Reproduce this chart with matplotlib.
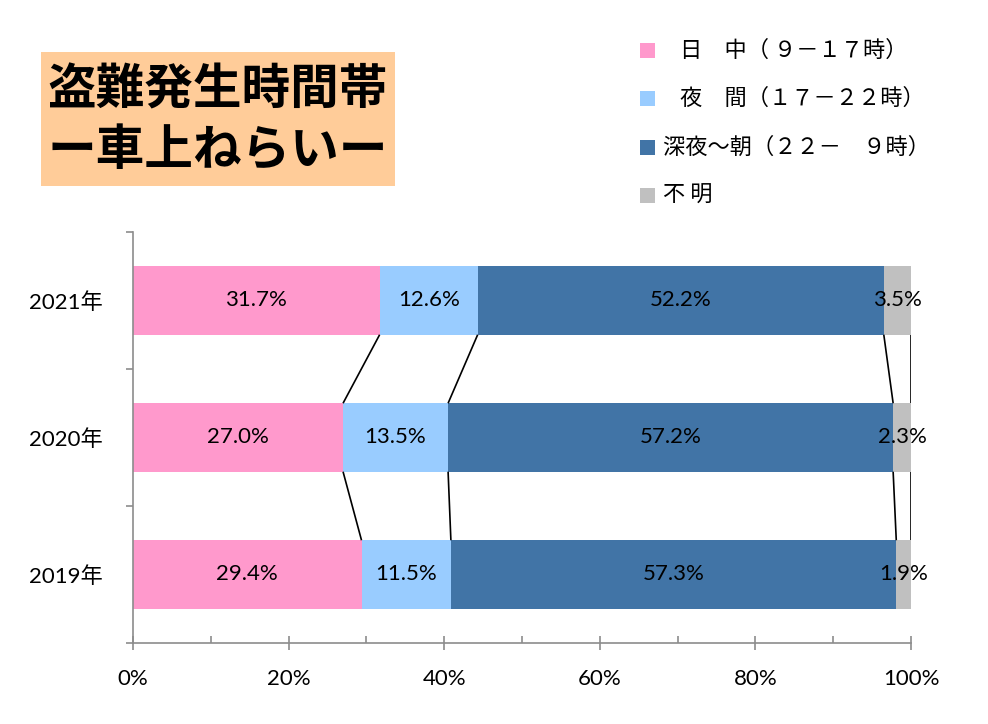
import matplotlib
matplotlib.use("Agg")
import matplotlib.pyplot as plt
from matplotlib.patches import Rectangle
import numpy as np

years = ["2019年", "2020年", "2021年"]
series_names = ["日　中（ ９－１７時）", "夜　間（１７－２２時）", "深夜～朝（２２－　９時）", "不 明"]
daytime = [29.4, 27.0, 31.7]
evening = [11.5, 13.5, 12.6]
night = [57.3, 57.2, 52.2]
unknown = [1.9, 2.3, 3.5]
x_ticks = [0, 20, 40, 60, 80, 100]
x_tick_labels = ["0%", "20%", "40%", "60%", "80%", "100%"]
title_lines = ["盗難発生時間帯", "ー車上ねらいー"]

colors = ["#FF99CC", "#99CCFF", "#4174A6", "#C0C0C0"]
FONT = ["Lato", "Noto Sans CJK JP", "DejaVu Sans"]
CJK = ["Noto Sans CJK JP", "DejaVu Sans"]
plt.rcParams['font.family'] = FONT

data = np.array([daytime, evening, night, unknown])  # series x years
totals = data.sum(axis=0)
shares = data / totals * 100

fig = plt.figure(figsize=(9.88, 7.24), dpi=100)
ax = fig.add_axes([0.1346, 0.1119, 0.9221 - 0.1346, 0.6796 - 0.1119])

ypos = np.arange(len(years))
bh = 0.5
left = np.zeros(len(years))
for s in range(len(series_names)):
    ax.barh(ypos, shares[s], left=left, height=bh, color=colors[s], edgecolor="none")
    for i in range(len(years)):
        ax.text(left[i] + shares[s][i] / 2, ypos[i], f"{data[s][i]:.1f}%",
                ha="center", va="center", fontsize=16, color="black", family=FONT)
    left = left + shares[s]

# connector lines between bars
cum = np.cumsum(shares, axis=0)
for s in range(len(series_names)):
    for i in range(len(years) - 1):
        ax.plot([cum[s][i + 1], cum[s][i]], [ypos[i + 1] - bh / 2, ypos[i] + bh / 2],
                color="black", lw=1.2, solid_capstyle="butt")

ax.set_xlim(0, 100)
ax.set_ylim(-0.5, len(years) - 0.5)
for side in ["top", "right"]:
    ax.spines[side].set_visible(False)
for side in ["left", "bottom"]:
    ax.spines[side].set_color("#8C8C8C")
    ax.spines[side].set_linewidth(1.2)

ax.set_xticks(x_ticks)
ax.set_xticklabels(x_tick_labels, fontsize=16, family=FONT)
ax.set_xticks(np.arange(10, 100, 20), minor=True)
ax.tick_params(axis="x", which="major", direction="inout", length=10, width=1.2, color="#8C8C8C", pad=14)
ax.tick_params(axis="x", which="minor", direction="in", length=5, width=1.2, color="#8C8C8C")

ax.set_yticks(np.arange(-0.5, len(years), 1.0))
ax.set_yticklabels([])
ax.set_yticks(ypos, minor=True)
ax.set_yticklabels(years, minor=True, fontsize=16, family=FONT)
ax.tick_params(axis="y", which="major", direction="out", length=5, width=1.2, color="#8C8C8C")
ax.tick_params(axis="y", which="minor", length=0, pad=22)

# title box
fig.patches.append(Rectangle((0.0415, 0.7431), 0.3583, 0.1851, transform=fig.transFigure,
                             facecolor="#FFCC99", edgecolor="none"))
fig.text(0.2206, 1 - 90 / 724, title_lines[0], ha="center", va="center", fontsize=35,
         fontweight="bold", family=CJK)
fig.text(0.2206, 1 - 150 / 724, title_lines[1], ha="center", va="center", fontsize=35,
         fontweight="bold", family=CJK)

# legend
leg_y = [50, 98, 147, 195]
leg_x_text = [680, 680, 663, 663]
for s in range(len(series_names)):
    yc = 1 - leg_y[s] / 724
    fig.patches.append(Rectangle((640 / 988, yc - 7.5 / 724), 15 / 988, 15 / 724,
                                 transform=fig.transFigure, facecolor=colors[s], edgecolor="none"))
    fig.text(leg_x_text[s] / 988, yc, series_names[s], ha="left", va="center", fontsize=16,
             family=CJK)

fig.savefig("out.png", dpi=100)
